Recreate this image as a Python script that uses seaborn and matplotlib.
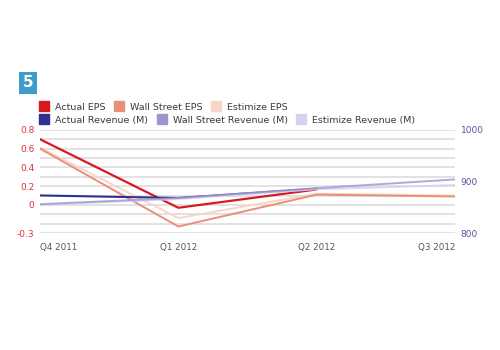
import matplotlib
matplotlib.use("Agg")
import matplotlib.pyplot as plt
from matplotlib.lines import Line2D
import numpy as np
import seaborn as sns

# quarters on the x axis
quarters = ["Q4 2011", "Q1 2012", "Q2 2012", "Q3 2012"]

# EPS series (left axis)
actual_eps = [0.70, -0.03, 0.165]
wallstreet_eps = [0.60, -0.23, 0.11, 0.09]
estimize_eps = [0.61, -0.14, 0.12, 0.10]

# revenue series in millions (right axis)
actual_rev = [873, 868, 886]
wallstreet_rev = [856, 868, 887, 904]
estimize_rev = [855, 866, 885, 893]

eps_ticks = [-0.3, 0, 0.2, 0.4, 0.6, 0.8]
eps_tick_labels = ["-0.3", "0", "0.2", "0.4", "0.6", "0.8"]
rev_ticks = [800, 900, 1000]

colors = {
    "Actual EPS": "#d71920",
    "Wall Street EPS": "#e98f77",
    "Estimize EPS": "#f8d5c6",
    "Actual Revenue (M)": "#2d3191",
    "Wall Street Revenue (M)": "#9c95d0",
    "Estimize Revenue (M)": "#d6d2ee",
}

sns.set_style("white")
plt.rcParams["font.family"] = ["DejaVu Sans"]

fig = plt.figure(figsize=(5, 3.5), dpi=100)
ax = fig.add_axes([0.08, 0.334, 0.83, 0.295])
ax2 = ax.twinx()

x = np.arange(len(quarters))

# gridlines every 0.1 on the EPS scale
for g in np.arange(-0.3, 0.81, 0.1):
    ax.axhline(g, color="#dadada", lw=1.1, zorder=0)

# EPS lines
sns.lineplot(x=x[:len(estimize_eps)], y=estimize_eps, ax=ax, color=colors["Estimize EPS"], lw=1.4)
sns.lineplot(x=x[:len(wallstreet_eps)], y=wallstreet_eps, ax=ax, color=colors["Wall Street EPS"], lw=1.4)
sns.lineplot(x=x[:len(actual_eps)], y=actual_eps, ax=ax, color=colors["Actual EPS"], lw=1.6)

# revenue lines
sns.lineplot(x=x[:len(actual_rev)], y=actual_rev, ax=ax2, color=colors["Actual Revenue (M)"], lw=1.5)
sns.lineplot(x=x[:len(estimize_rev)], y=estimize_rev, ax=ax2, color=colors["Estimize Revenue (M)"], lw=1.4, alpha=0.9)
sns.lineplot(x=x[:len(wallstreet_rev)], y=wallstreet_rev, ax=ax2, color=colors["Wall Street Revenue (M)"], lw=1.4, alpha=0.8)

ax.set_xlim(0, len(quarters) - 1)
ax.set_ylim(-0.3, 0.8)
ax2.set_ylim(800, 1000)

ax.set_yticks(eps_ticks, eps_tick_labels)
ax2.set_yticks(rev_ticks, [str(t) for t in rev_ticks])
ax.set_xticks(x, quarters)

ax.tick_params(axis="y", length=0, pad=4, labelsize=6.5, labelcolor="#e0303a")
ax2.tick_params(axis="y", length=0, pad=4, labelsize=6.5, labelcolor="#5552a6")
ax.tick_params(axis="x", length=0, pad=7, labelsize=6.3, labelcolor="#555555")

xlabels = ax.get_xticklabels()
xlabels[0].set_ha("left")
xlabels[-1].set_ha("right")

for a in (ax, ax2):
    for s in a.spines.values():
        s.set_visible(False)
    a.set_xlabel("")
    a.set_ylabel("")

# badge
fig.text(0.056, 0.763, "5", color="white", fontsize=11, fontweight="bold",
         ha="center", va="center",
         bbox=dict(boxstyle="square,pad=0.25", fc="#3d9cc8", ec="none"))

# two legend rows
names = list(colors.keys())
for row, y in ((names[:3], 0.694), (names[3:], 0.657)):
    handles = [Line2D([], [], ls="", marker="s", ms=6.5, color=colors[n]) for n in row]
    leg = fig.legend(handles, row, loc="center left", bbox_to_anchor=(0.082, y),
                     ncol=3, frameon=False, fontsize=6.8, handlelength=0.7,
                     handletextpad=0.8, columnspacing=1.1, borderpad=0,
                     borderaxespad=0)
    for t in leg.get_texts():
        t.set_color("#3a3a3a")

fig.savefig("out.png", dpi=100, facecolor="white")
